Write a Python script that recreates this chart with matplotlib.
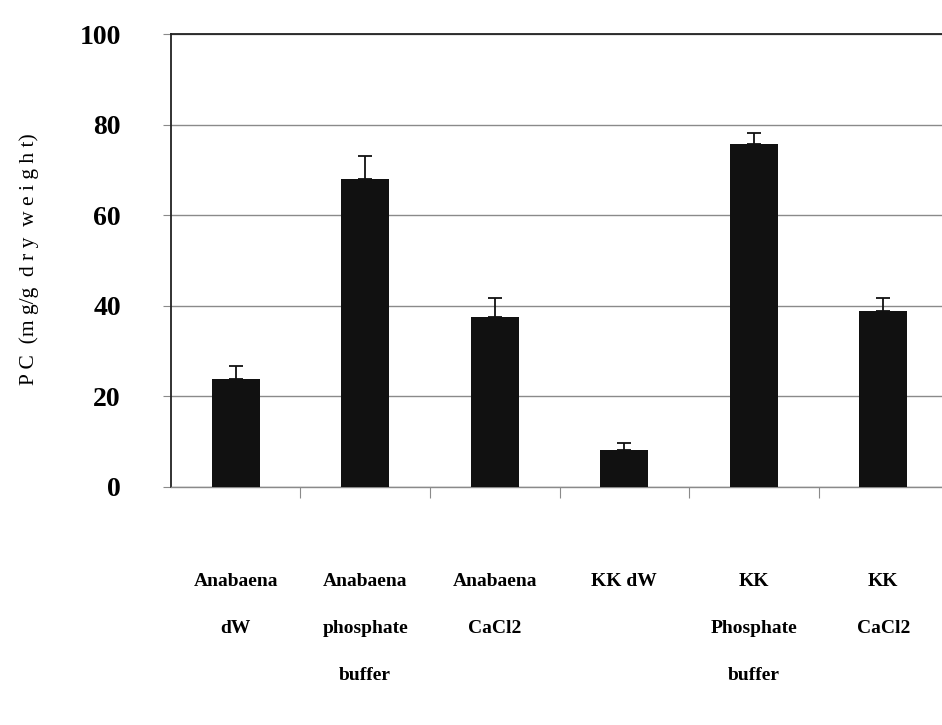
import numpy as np
import matplotlib.pyplot as plt
from matplotlib.ticker import FixedLocator

# PC content per extraction treatment
labels = ["Anabaena\ndW", "Anabaena\nphosphate\nbuffer", "Anabaena\nCaCl2",
          "KK dW", "KK\nPhosphate\nbuffer", "KK\nCaCl2"]
pc_mean = [23.8, 68.0, 37.5, 8.2, 75.7, 38.9]
pc_sd = [2.9, 5.0, 4.2, 1.4, 2.5, 2.8]
yticks = [0, 20, 40, 60, 80, 100]

plt.rcParams.update({
    'font.family': ['Liberation Serif', 'DejaVu Serif'],
})

fig = plt.figure(figsize=(9.42, 7.25), dpi=100)
ax = fig.add_axes([0.1815, 0.3283, 0.825, 0.6248])

x = np.arange(len(labels))
ax.bar(x, pc_mean, width=0.37, color='#111111', zorder=3)
ax.errorbar(x, pc_mean, yerr=[np.zeros(len(pc_sd)), pc_sd], fmt='none',
            ecolor='#111111', elinewidth=1.3, capsize=5, capthick=1.3, zorder=4)

ax.set_xlim(-0.5, len(labels) - 0.5)
ax.set_ylim(0, 100)
ax.set_yticks(yticks)
ax.set_yticklabels([str(v) for v in yticks], fontsize=20, fontweight='bold')
ax.yaxis.grid(True, color='#8a8a8a', linewidth=1.0, zorder=0)
ax.tick_params(axis='y', length=6, width=0.8, color='#8a8a8a', pad=30)

# category labels under the bars, tick marks between categories
ax.set_xticks(x)
ax.set_xticklabels(labels, fontsize=14, fontweight='bold', linespacing=3.3,
                   va='top')
ax.tick_params(axis='x', which='major', length=0, pad=62)
ax.xaxis.set_minor_locator(FixedLocator(np.arange(0.5, len(labels) - 0.5, 1)))
ax.tick_params(axis='x', which='minor', length=8, width=0.8, color='#8a8a8a',
               direction='out')

ax.spines['left'].set_color('#222222')
ax.spines['left'].set_linewidth(1.3)
ax.spines['top'].set_color('#222222')
ax.spines['top'].set_linewidth(1.3)
ax.spines['bottom'].set_color('#8a8a8a')
ax.spines['bottom'].set_linewidth(1.0)
ax.spines['right'].set_visible(False)

ax.set_ylabel("P C  (m g/g  d r y  w e i g h t)", fontsize=15.5)
ax.yaxis.set_label_coords(-0.17, 0.503)

fig.savefig("out.png", dpi=100)
